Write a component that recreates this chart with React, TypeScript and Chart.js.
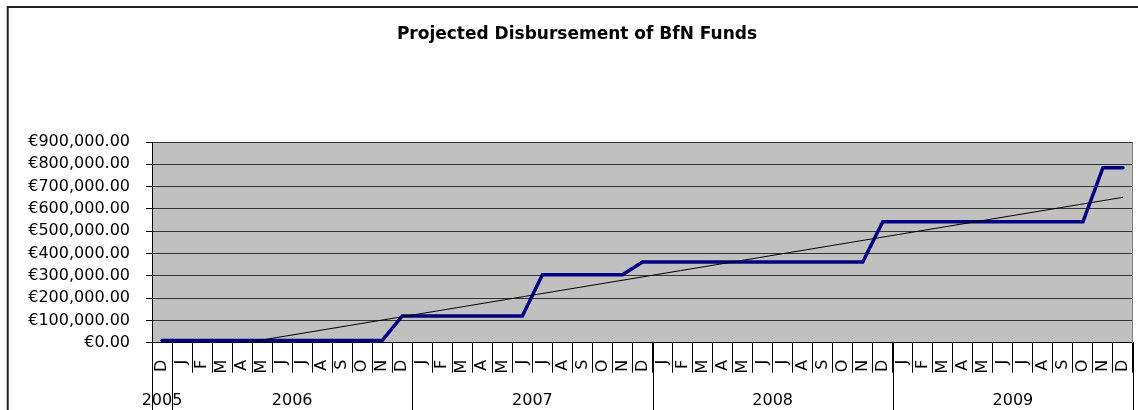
import React, { useEffect, useRef } from 'react';
import { Chart, registerables } from 'chart.js';

Chart.register(...registerables);

// Month categories: Dec 2005, then Jan..Dec for 2006, 2007, 2008, 2009
const categories = [
  'D',
  'J', 'F', 'M', 'A', 'M', 'J', 'J', 'A', 'S', 'O', 'N', 'D',
  'J', 'F', 'M', 'A', 'M', 'J', 'J', 'A', 'S', 'O', 'N', 'D',
  'J', 'F', 'M', 'A', 'M', 'J', 'J', 'A', 'S', 'O', 'N', 'D',
  'J', 'F', 'M', 'A', 'M', 'J', 'J', 'A', 'S', 'O', 'N', 'D',
];

// Cumulative projected disbursement (EUR)
const disbursement = [
  10000,
  10000, 10000, 10000, 10000, 10000, 10000, 10000, 10000, 10000, 10000, 10000, 120000,
  120000, 120000, 120000, 120000, 120000, 120000, 305000, 305000, 305000, 305000, 305000, 362000,
  362000, 362000, 362000, 362000, 362000, 362000, 362000, 362000, 362000, 362000, 362000, 542000,
  542000, 542000, 542000, 542000, 542000, 542000, 542000, 542000, 542000, 542000, 785000, 785000,
];

// Linear trendline end values (first and last category)
const trendStart = -62000;
const trendEnd = 652000;

// Year groups under the month axis
const yearLabels = ['2005', '2006', '2007', '2008', '2009'];
const yearMonths = [1, 12, 12, 12, 12];

// Value axis
const yMin = 0;
const yMax = 900000;
const yStep = 100000;

const titleText = 'Projected Disbursement of BfN Funds';

function formatEuro(v: number): string {
  const fixed = Math.abs(v).toFixed(2);
  const [intPart, dec] = fixed.split('.');
  const withCommas = intPart.replace(/\B(?=(\d{3})+(?!\d))/g, ',');
  return '€' + (v < 0 ? '-' : '') + withCommas + '.' + dec;
}

const FONT = '"DejaVu Sans", "Liberation Sans", Arial, sans-serif';

const decorPlugin = {
  id: 'decor',
  beforeDraw(chart: any) {
    const { ctx, chartArea: a } = chart;
    ctx.save();
    ctx.fillStyle = '#ffffff';
    ctx.fillRect(0, 0, chart.width, chart.height);
    // outer chart frame (left and top visible)
    ctx.strokeStyle = '#222222';
    ctx.lineWidth = 2;
    ctx.beginPath();
    ctx.moveTo(7.7, chart.height + 5);
    ctx.lineTo(7.7, 7);
    ctx.lineTo(chart.width + 5, 7);
    ctx.stroke();
    // plot area background
    ctx.fillStyle = '#c0c0c0';
    ctx.fillRect(a.left, a.top, a.right - a.left, a.bottom - a.top);
    ctx.restore();
  },
  afterDraw(chart: any) {
    const { ctx, chartArea: a } = chart;
    const xs = chart.scales.x;
    const step = xs.getPixelForValue(1) - xs.getPixelForValue(0);
    ctx.save();
    // right border of plot area
    ctx.strokeStyle = '#808080';
    ctx.lineWidth = 1;
    ctx.beginPath();
    ctx.moveTo(Math.round(a.right) - 0.5, a.top);
    ctx.lineTo(Math.round(a.right) - 0.5, a.bottom);
    ctx.stroke();
    // year group separators and labels
    ctx.strokeStyle = '#000000';
    ctx.fillStyle = '#000000';
    ctx.font = '16px ' + FONT;
    ctx.textAlign = 'center';
    ctx.textBaseline = 'alphabetic';
    let start = 0;
    const bounds: number[] = [];
    yearLabels.forEach((lab, k) => {
      const n = yearMonths[k];
      const x0 = xs.getPixelForValue(start) - step / 2;
      const x1 = xs.getPixelForValue(start + n - 1) + step / 2;
      bounds.push(x0);
      if (k === yearLabels.length - 1) bounds.push(x1);
      ctx.fillText(lab, (x0 + x1) / 2, 405);
      start += n;
    });
    bounds.forEach((bx) => {
      const px = Math.round(bx) + 0.5;
      ctx.beginPath();
      ctx.moveTo(px, a.bottom);
      ctx.lineTo(px, chart.height);
      ctx.stroke();
    });
    ctx.restore();
  },
};

export default function App() {
  const canvasRef = useRef<HTMLCanvasElement | null>(null);

  useEffect(() => {
    const canvas = canvasRef.current;
    if (!canvas) return;
    const last = categories.length - 1;
    const trendValues = categories.map((_, i) =>
      i === 0 ? trendStart : i === last ? trendEnd : null
    );

    const chart = new Chart(canvas, {
      type: 'line',
      data: {
        labels: categories,
        datasets: [
          {
            label: 'Trend',
            data: trendValues as any,
            borderColor: '#000000',
            borderWidth: 1,
            pointRadius: 0,
            spanGaps: true,
            tension: 0,
            order: 0,
          },
          {
            label: 'Disbursement',
            data: disbursement,
            borderColor: '#000080',
            borderWidth: 3.5,
            pointRadius: 0,
            tension: 0,
            borderCapStyle: 'round',
            borderJoinStyle: 'miter',
            order: 1,
          },
        ],
      },
      plugins: [decorPlugin],
      options: {
        responsive: false,
        animation: false,
        events: [],
        devicePixelRatio: 1,
        layout: { padding: { left: 21, right: 5, top: 0, bottom: 0 } },
        plugins: {
          legend: { display: false },
          tooltip: { enabled: false },
          title: {
            display: true,
            text: titleText,
            color: '#000000',
            font: { family: FONT, size: 17, weight: 'bold', lineHeight: 1.2 },
            padding: { top: 24.5, bottom: 97.1 },
          },
        },
        scales: {
          x: {
            type: 'category',
            offset: true,
            grid: {
              display: true,
              offset: true,
              drawOnChartArea: false,
              drawTicks: true,
              tickLength: 30,
              color: '#000000',
              lineWidth: 1,
            },
            border: { display: true, color: '#000000', width: 1 },
            ticks: {
              autoSkip: false,
              maxRotation: 90,
              minRotation: 90,
              padding: -13,
              color: '#000000',
              font: { family: FONT, size: 16 },
            },
            afterFit(scale: any) {
              scale.height = 67.3;
            },
          },
          y: {
            min: yMin,
            max: yMax,
            grid: {
              color: '#333333',
              lineWidth: 1,
              tickLength: 6,
              tickColor: '#000000',
            },
            border: { display: true, color: '#000000', width: 1 },
            ticks: {
              stepSize: yStep,
              autoSkip: false,
              padding: 16,
              color: '#000000',
              font: { family: FONT, size: 16 },
              callback: (v: any) => formatEuro(Number(v)),
            },
            afterFit(scale: any) {
              scale.width = 131;
            },
          },
        },
      },
    });
    return () => chart.destroy();
  }, []);

  return (
    <div style={{ position: 'fixed', left: 0, top: 0, width: 1138, height: 410, overflow: 'hidden', background: '#fff' }}>
      <canvas ref={canvasRef} width={1138} height={410} style={{ display: 'block', width: 1138, height: 410 }} />
    </div>
  );
}
